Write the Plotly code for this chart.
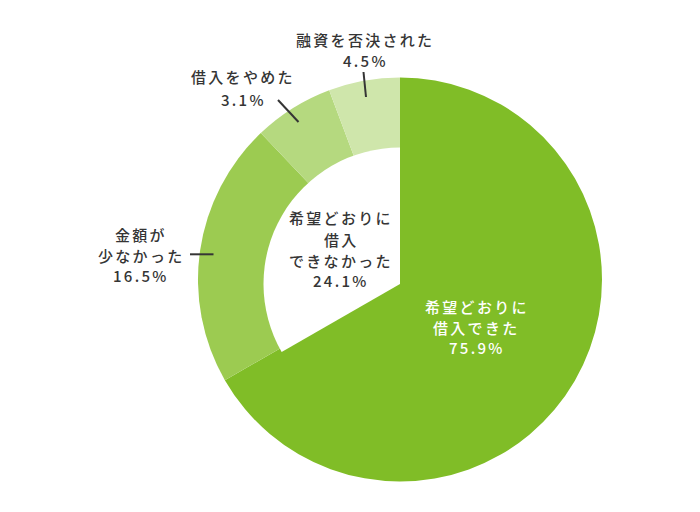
import plotly.graph_objects as go

# ---- Data ----
categories = ["希望どおりに借入できた", "金額が少なかった", "借入をやめた", "融資を否決された"]
values = [75.9, 16.5, 3.1, 4.5]                 # printed percentages
slice_share = [66.7, 21.2, 6.4, 5.7]            # slice sizes as drawn in the picture
label_lines = [["希望どおりに", "借入できた"], ["金額が", "少なかった"], ["借入をやめた"], ["融資を否決された"]]
group_labels = ["希望どおりに借入できた", "希望どおりに借入できなかった"]
group_values = [75.9, 24.1]
group_lines = ["希望どおりに", "借入", "できなかった"]

colors = ["#80bd27", "#9ccb51", "#b5d97f", "#cfe6ab"]

W, H = 700, 512

def dom(cx, cy, r):
    yb = H - cy
    return dict(x=[(cx - r) / W, (cx + r) / W], y=[(yb - r) / H, (yb + r) / H])

fig = go.Figure()
fig.add_trace(go.Pie(
    labels=categories, values=slice_share, sort=False, direction="clockwise", rotation=0,
    marker=dict(colors=colors, line=dict(width=0)),
    textinfo="none", hoverinfo="skip", showlegend=False, domain=dom(400, 279.5, 202),
))
fig.add_trace(go.Pie(
    labels=group_labels, values=[slice_share[0], sum(slice_share[1:])],
    sort=False, direction="clockwise", rotation=0,
    marker=dict(colors=["rgba(0,0,0,0)", "#ffffff"], line=dict(width=0)),
    textinfo="none", hoverinfo="skip", showlegend=False, domain=dom(400, 284, 136.5),
))

FONT = "Noto Sans CJK JP, Noto Sans, sans-serif"
DARK = "#353535"

def ann(x, ys, lines, color=DARK):
    for y, t in zip(ys, lines):
        fig.add_annotation(
            x=x / W, y=1 - y / H, xref="paper", yref="paper",
            text=f'<span style="letter-spacing:2.3px">{t}</span>', showarrow=False,
            font=dict(family=FONT, size=15, color=color, weight=500),
            xanchor="center", yanchor="middle",
        )

ann(365, [39.5, 60], label_lines[3] + [f"{values[3]}%"])
ann(243, [76.5, 99], label_lines[2] + [f"{values[2]}%"])
ann(141, [234.5, 255, 275.5], label_lines[1] + [f"{values[1]}%"])
ann(341, [217.5, 239.5, 260, 280], group_lines + [f"{group_values[1]}%"])
ann(477, [306.5, 327, 347], label_lines[0] + [f"{values[0]}%"], color="#ffffff")

def seg(x0, y0, x1, y1):
    fig.add_shape(type="line", xref="paper", yref="paper",
                  x0=x0 / W, y0=1 - y0 / H, x1=x1 / W, y1=1 - y1 / H,
                  line=dict(color=DARK, width=2))

seg(363.5, 72, 366, 97)
seg(278, 100, 298.5, 122)
seg(190, 254.3, 213.5, 254.3)

fig.update_layout(
    width=W, height=H, margin=dict(l=0, r=0, t=0, b=0),
    paper_bgcolor="#ffffff", plot_bgcolor="#ffffff",
)

fig.write_html("out.html", config={"displayModeBar": False},
               post_script="document.body.style.margin='0';")
